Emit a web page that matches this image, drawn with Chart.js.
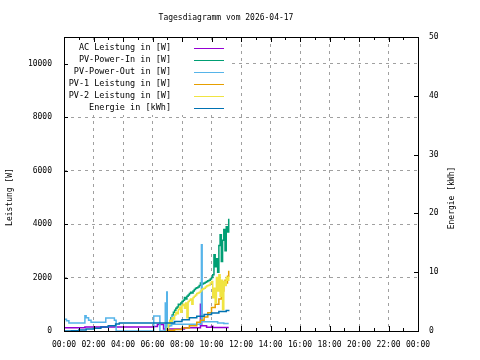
<!DOCTYPE html>
<html lang="de">
<head>
<meta charset="UTF-8">
<title>Tagesdiagramm</title>
<script src="https://cdn.jsdelivr.net/npm/chart.js"></script>
<style>
  html, body { margin: 0; padding: 0; background: #fff; }
  #wrap { width: 480px; height: 360px; }
</style>
</head>
<body>
<div id="wrap"><canvas id="tages" width="480" height="360"></canvas></div>
<script>
const titel = 'Tagesdiagramm vom 2026-04-17';
const xTicks = ['00:00','02:00','04:00','06:00','08:00','10:00','12:00','14:00','16:00','18:00','20:00','22:00','00:00'];

// AC Leistung [W]
const acZeit = ['00:00','01:25','06:05','06:20','06:45','08:10','09:15','09:20','09:40','10:00','10:05','11:10'];
const acWert = [125, 150, 170, 240, 75, 125, 1000, 200, 140, 175, 130, 130];

// PV-Power-In [W]
const inZeit = ['06:50','07:00','07:05','07:10','07:15','07:20','07:25','07:30','07:35','07:40','07:45','07:50','07:55',
  '08:00','08:05','08:10','08:15','08:20','08:25','08:30','08:35','08:40','08:45','08:50','08:55',
  '09:00','09:05','09:10','09:15','09:20','09:25','09:30','09:35','09:40','09:45','09:50','09:55',
  '10:00','10:05','10:10','10:15','10:20','10:25','10:30','10:35','10:40','10:45','10:50','10:55','11:00','11:05','11:10'];
const inWert = [0, 100, 200, 350, 500, 600, 700, 780, 850, 900, 1000, 980, 1050,
  1100, 1150, 1250, 1200, 1300, 1350, 1400, 1450, 1420, 1500, 1550, 1600,
  1620, 1650, 1700, 1800, 1750, 1780, 1800, 1820, 1850, 1880, 1900, 1950,
  2000, 2100, 2850, 2400, 2700, 2200, 3200, 3600, 2600, 3400, 3800, 3000, 3900, 3700, 4200];

// PV-Power-Out [W]
const outZeit = ['00:00','00:10','00:20','01:25','01:30','01:40','01:50','02:50','03:25','03:32','06:05','06:30',
  '06:52','06:54','06:58','07:00','07:18','07:22','09:16','09:19','09:22','10:25','10:50','11:10'];
const outWert = [440, 380, 300, 575, 500, 400, 330, 490, 400, 0, 560, 0,
  1050, 0, 1460, 200, 560, 250, 250, 3225, 350, 300, 280, 280];

// PV-1 Leistung [W]
const pv1Zeit = ['06:55','07:00','07:30','08:00','08:30','09:00','09:15','09:30','09:45','10:00','10:15','10:30','10:40','10:50','10:55','11:00','11:05','11:10'];
const pv1Wert = [0, 30, 60, 110, 200, 330, 400, 520, 680, 880, 1000, 1200, 1500, 1800, 1900, 1800, 2050, 2250];

// PV-2 Leistung [W]
const pv2Zeit = ['06:55','07:00','07:05','07:10','07:15','07:20','07:25','07:30','07:35','07:40','07:45','07:50','07:55',
  '08:00','08:05','08:10','08:15','08:20','08:25','08:30','08:35','08:40','08:45','08:50','08:55',
  '09:00','09:05','09:10','09:15','09:20','09:25','09:30','09:35','09:40','09:45','09:50','09:55',
  '10:00','10:05','10:10','10:15','10:20','10:25','10:30','10:35','10:40','10:45','10:50','10:55','11:00','11:05','11:10'];
const pv2Wert = [0, 100, 250, 400, 350, 500, 450, 600, 700, 650, 800, 900, 700,
  950, 1000, 850, 1050, 500, 1100, 1150, 1200, 1000, 1250, 1300, 1350,
  1400, 1420, 1450, 1500, 1550, 1580, 1600, 1650, 1680, 1700, 1720, 1800,
  1850, 1240, 1600, 1050, 2000, 1500, 2100, 1300, 1900, 800, 1850, 1700, 2000, 1900, 2050];

// Energie [kWh]
const enZeit = ['00:00','00:30','01:00','01:30','02:00','02:30','03:00','03:30','03:45','07:00','07:30','08:00','08:30','09:00','09:30','10:00','10:30','11:00','11:10'];
const enWert = [0.0, 0.05, 0.15, 0.35, 0.45, 0.7, 0.9, 1.2, 1.35, 1.35, 1.6, 1.9, 2.25, 2.5, 2.8, 3.05, 3.3, 3.5, 3.6];

function stunden(t) {
  const [h, m] = t.split(':').map(Number);
  return h + m / 60;
}
function punkte(zeit, wert) {
  return zeit.map((t, i) => ({ x: stunden(t), y: wert[i] }));
}

const schrift = '"DejaVu Sans Mono", "Liberation Mono", monospace';
const gitter = '#a0a0a0';

function serie(label, zeit, wert, farbe, achse, ord) {
  return {
    label: label,
    data: punkte(zeit, wert),
    borderColor: farbe,
    backgroundColor: farbe,
    borderWidth: 1.5,
    pointRadius: 0,
    stepped: 'before',
    fill: false,
    yAxisID: achse,
    order: ord
  };
}

// eigene Beschriftung: Titel, Achsentitel, Legende, Rahmen mit Innenticks
const beschriftung = {
  id: 'beschriftung',
  beforeDatasetsDraw(chart) {
    // Legendenfeld deckt das Gitter ab
    const ctx = chart.ctx;
    ctx.save();
    ctx.fillStyle = '#fff';
    ctx.fillRect(65, 40, 167, 75);
    ctx.restore();
  },
  afterDraw(chart) {
    const ctx = chart.ctx;
    const a = chart.chartArea;
    const sx = chart.scales.x, sy = chart.scales.y, sy2 = chart.scales.y2;
    ctx.save();
    ctx.fillStyle = '#000';
    ctx.font = '8px ' + schrift;
    ctx.textAlign = 'center';
    ctx.textBaseline = 'middle';
    ctx.fillText(titel, 226, 18);

    ctx.save();
    ctx.translate(10, 197);
    ctx.rotate(-Math.PI / 2);
    ctx.fillText('Leistung [W]', 0, 0);
    ctx.restore();
    ctx.save();
    ctx.translate(452, 198);
    ctx.rotate(-Math.PI / 2);
    ctx.fillText('Energie [kWh]', 0, 0);
    ctx.restore();

    // Rahmen
    ctx.strokeStyle = '#000';
    ctx.lineWidth = 1;
    ctx.strokeRect(Math.round(a.left) + 0.5, Math.round(a.top) + 0.5, Math.round(a.right - a.left), Math.round(a.bottom - a.top));

    // Ticks nach innen
    ctx.beginPath();
    for (let h = 0; h <= 24; h++) {
      const px = Math.round(sx.getPixelForValue(h)) + 0.5;
      const len = h % 2 === 0 ? 5 : 3;
      ctx.moveTo(px, a.bottom); ctx.lineTo(px, a.bottom - len);
      ctx.moveTo(px, a.top); ctx.lineTo(px, a.top + len);
    }
    for (let v = 0; v <= 10000; v += 2000) {
      const py = Math.round(sy.getPixelForValue(v)) + 0.5;
      ctx.moveTo(a.left, py); ctx.lineTo(a.left + 4, py);
    }
    for (let v = 0; v <= 50; v += 10) {
      const py = Math.round(sy2.getPixelForValue(v)) + 0.5;
      ctx.moveTo(a.right, py); ctx.lineTo(a.right - 4, py);
    }
    ctx.stroke();

    // Legende
    ctx.font = '8.5px ' + schrift;
    ctx.textAlign = 'right';
    const reihen = chart.data.datasets;
    reihen.forEach((ds, i) => {
      const y = 48 + i * 12;
      ctx.fillStyle = '#000';
      ctx.fillText(ds.label, 171, y);
      ctx.strokeStyle = ds.borderColor;
      ctx.lineWidth = 1;
      ctx.beginPath();
      ctx.moveTo(194, y + 0.5);
      ctx.lineTo(224, y + 0.5);
      ctx.stroke();
    });
    ctx.restore();
  }
};

new Chart(document.getElementById('tages'), {
  type: 'line',
  data: {
    datasets: [
      serie('AC Leistung in [W]', acZeit, acWert, '#9400d3', 'y', 6),
      serie('PV-Power-In in [W]', inZeit, inWert, '#009e73', 'y', 5),
      serie('PV-Power-Out in [W]', outZeit, outWert, '#56b4e9', 'y', 4),
      serie('PV-1 Leistung in [W]', pv1Zeit, pv1Wert, '#e69f00', 'y', 3),
      serie('PV-2 Leistung in [W]', pv2Zeit, pv2Wert, '#f0e442', 'y', 2),
      serie('Energie in [kWh]', enZeit, enWert, '#0072b2', 'y2', 1)
    ]
  },
  options: {
    responsive: false,
    animation: false,
    layout: { padding: { left: 0, right: 0, top: 37, bottom: 0 } },
    plugins: {
      legend: { display: false },
      title: { display: false },
      tooltip: { enabled: false }
    },
    scales: {
      x: {
        type: 'linear',
        min: 0,
        max: 24,
        afterFit: s => { s.height = 29; },
        afterBuildTicks: s => { s.ticks = xTicks.map((t, i) => ({ value: i * 2 })); },
        ticks: {
          autoSkip: false,
          maxRotation: 0,
          padding: 9,
          color: '#000',
          font: { family: schrift, size: 8 },
          callback: (v, i) => xTicks[i]
        },
        grid: { color: gitter, lineWidth: 1, drawTicks: false },
        border: { display: false, dash: [3, 4] }
      },
      y: {
        position: 'left',
        min: 0,
        max: 11000,
        afterFit: s => { s.width = 64; },
        afterBuildTicks: s => { s.ticks = [0, 2000, 4000, 6000, 8000, 10000].map(v => ({ value: v })); },
        ticks: {
          padding: 12,
          color: '#000',
          font: { family: schrift, size: 8 },
          callback: v => String(v)
        },
        grid: { color: gitter, lineWidth: 1, drawTicks: false },
        border: { display: false, dash: [3, 4] }
      },
      y2: {
        position: 'right',
        min: 0,
        max: 50,
        afterFit: s => { s.width = 62; },
        ticks: {
          stepSize: 10,
          padding: 11,
          color: '#000',
          font: { family: schrift, size: 8 },
          callback: v => String(v)
        },
        grid: { drawOnChartArea: false, drawTicks: false },
        border: { display: false }
      }
    }
  },
  plugins: [beschriftung]
});
</script>
</body>
</html>
